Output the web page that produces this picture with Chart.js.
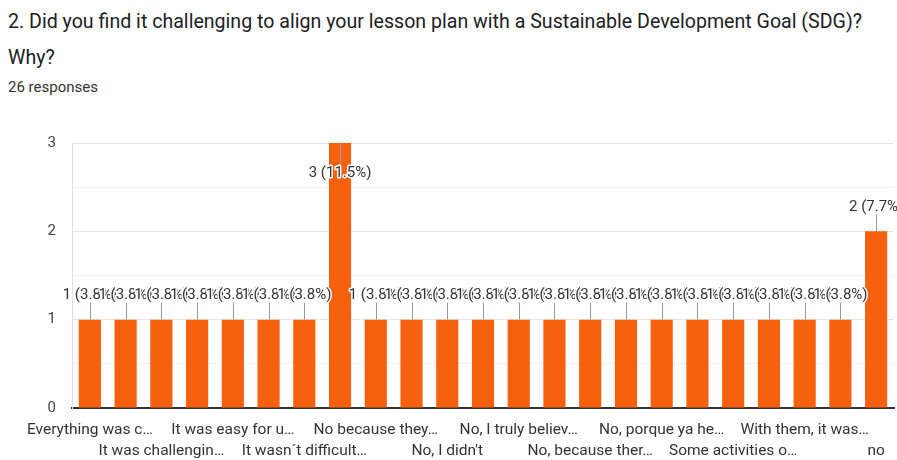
<!DOCTYPE HTML>
<html>
    <head>
        <title>SDG lesson plan responses</title>
        <script src="https://cdn.jsdelivr.net/npm/chart.js@4.4.0/dist/chart.umd.min.js"></script>
        <style>
        body {
            margin: 0;
            background: #fff;
            font-family: Roboto, sans-serif;
            color: #202124;
        }
        .question {
            position: absolute;
            left: 8px;
            top: 4px;
            width: 870px;
            font-size: 19.6px;
            line-height: 36px;
        }
        .count {
            position: absolute;
            left: 8px;
            top: 78px;
            font-size: 15px;
            color: #333;
        }
        #canvas-holder {
            position: absolute;
            left: 0;
            top: 100px;
            width: 897px;
            height: 360px;
        }
        </style>
    </head>
    <body>
        <div class="question">2. Did you find it challenging to align your lesson plan with a Sustainable Development Goal (SDG)? Why?</div>
        <div class="count">26 responses</div>
        <div id="canvas-holder">
            <canvas id="chart-area"></canvas>
        </div>
        <script>
            // answers as shown on the axis (odd ones are not labelled in the picture)
            var categories = [
                'Everything was c…', '', 'It was challengin…', '',
                'It was easy for u…', '', 'It wasn´t difficult…', '',
                'No because they…', '', "No, I didn't", '',
                'No, I truly believ…', '', 'No, because ther…', '',
                'No, porque ya he…', '', 'Some activities o…', '',
                'With them, it was…', '', 'no'
            ];
            var counts = [1, 1, 1, 1, 1, 1, 1, 3, 1, 1, 1, 1, 1, 1, 1, 1, 1, 1, 1, 1, 1, 1, 2];
            var totalResponses = 26;
            var yTicks = [0, 1, 2, 3];

            var barOrange = '#f6600f';

            // value labels with little leader lines, drawn one after another
            var barLabels = {
                id: 'barLabels',
                afterDatasetsDraw: function(chart) {
                    var ctx = chart.ctx;
                    var area = chart.chartArea;
                    var meta = chart.getDatasetMeta(0);
                    ctx.save();
                    ctx.font = '15px Roboto';
                    ctx.textAlign = 'center';
                    ctx.textBaseline = 'middle';
                    ctx.lineJoin = 'round';
                    meta.data.forEach(function(bar, i) {
                        var v = counts[i];
                        var text = v + ' (' + (v / totalResponses * 100).toFixed(1) + '%)';
                        var lineEnd, ty;
                        if (bar.y - 34 < area.top) {
                            lineEnd = bar.y + 25;
                            ty = bar.y + 30;
                        } else {
                            lineEnd = bar.y - 17;
                            ty = bar.y - 24;
                        }
                        ctx.strokeStyle = '#9a9a9a';
                        ctx.lineWidth = 1;
                        ctx.beginPath();
                        ctx.moveTo(Math.round(bar.x) + 0.5, bar.y);
                        ctx.lineTo(Math.round(bar.x) + 0.5, lineEnd);
                        ctx.stroke();
                        ctx.strokeStyle = '#fff';
                        ctx.lineWidth = 3;
                        ctx.strokeText(text, bar.x, ty);
                        ctx.fillStyle = '#333';
                        ctx.fillText(text, bar.x, ty);
                    });
                    ctx.restore();
                }
            };

            Chart.defaults.font.family = 'Roboto';

            var config = {
                type: 'bar',
                data: {
                    labels: categories,
                    datasets: [{
                        data: counts,
                        backgroundColor: barOrange,
                        borderWidth: 0,
                        barPercentage: 0.62,
                        categoryPercentage: 1.0
                    }]
                },
                options: {
                    responsive: true,
                    maintainAspectRatio: false,
                    animation: false,
                    layout: {
                        padding: { top: 43, right: 3, left: 0, bottom: 0 }
                    },
                    plugins: {
                        legend: { display: false },
                        tooltip: { enabled: false }
                    },
                    scales: {
                        x: {
                            grid: { display: false, drawTicks: false },
                            border: { color: '#333', width: 2 },
                            afterFit: function(scale) { scale.height = 52; },
                            ticks: {
                                autoSkip: false,
                                maxRotation: 0,
                                padding: 12,
                                color: '#333',
                                font: { size: 15.5, lineHeight: 1.36 },
                                callback: function(value, index) {
                                    var lab = this.getLabelForValue(value);
                                    if (!lab) return '';
                                    return index % 4 === 0 ? lab : ['', lab];
                                }
                            }
                        },
                        y: {
                            min: yTicks[0],
                            max: yTicks[yTicks.length - 1],
                            afterFit: function(scale) { scale.width = 72; },
                            border: { color: '#e0e0e0', width: 1 },
                            grid: {
                                drawTicks: false,
                                color: function(c) {
                                    if (c.tick.value === 0) return '#333';
                                    return c.tick.value % 1 === 0 ? '#e6e6e6' : '#f3f3f3';
                                }
                            },
                            ticks: {
                                stepSize: 0.5,
                                padding: 16,
                                color: '#444',
                                font: { size: 15 },
                                callback: function(value) {
                                    return yTicks.indexOf(value) >= 0 ? value : '';
                                }
                            }
                        }
                    }
                },
                plugins: [barLabels]
            };

            window.onload = function() {
                var ctx = document.getElementById('chart-area').getContext('2d');
                window.myBar = new Chart(ctx, config);
            };
        </script>
    </body>
</html>
